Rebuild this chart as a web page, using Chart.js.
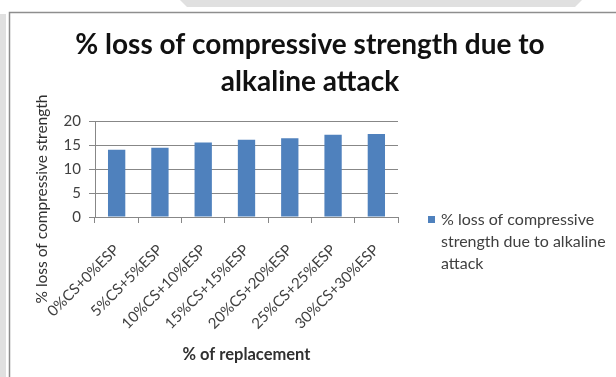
<!DOCTYPE html>
<html>
<head>
<meta charset="utf-8">
<script src="https://cdn.jsdelivr.net/npm/chart.js@4.4.1/dist/chart.umd.min.js"></script>
<style>
  html, body { margin: 0; padding: 0; background: #ffffff; }
  #wrap { width: 616px; height: 377px; }
</style>
</head>
<body>
<div id="wrap"><canvas id="c" width="616" height="377"></canvas></div>
<script>
// Mix designs (cement / eggshell powder replacement levels)
const categories = ['0%CS+0%ESP', '5%CS+5%ESP', '10%CS+10%ESP', '15%CS+15%ESP',
                    '20%CS+20%ESP', '25%CS+25%ESP', '30%CS+30%ESP'];
// % loss of compressive strength after alkaline exposure
const lossValues = [14.1, 14.5, 15.6, 16.2, 16.5, 17.2, 17.4];
const seriesName = '% loss of compressive strength due to alkaline attack';
const titleLines = ['% loss of compressive strength due to', 'alkaline attack'];
const yAxisTitle = '% loss of compressive strength';
const xAxisTitle = '% of replacement';
const legendLines = ['% loss of compressive', 'strength due to alkaline', 'attack'];

const BAR = '#4F81BD';
const GRID = '#878787';
const TEXT = '#404040';
const FONT = 'Lato, "Open Sans", sans-serif';

// Page chrome, outer frame, centred title, side legend and rotated y-axis title
const framePlugin = {
  id: 'framePlugin',
  beforeDraw(chart) {
    const ctx = chart.ctx;
    ctx.save();
    ctx.fillStyle = '#ffffff';
    ctx.fillRect(0, 0, chart.width, chart.height);
    ctx.fillStyle = '#e0e0e0';
    ctx.beginPath();
    ctx.moveTo(180, 0); ctx.lineTo(582, 0); ctx.lineTo(575, 7); ctx.lineTo(187, 7);
    ctx.closePath(); ctx.fill();
    ctx.fillRect(0, 14, 6, chart.height - 14);
    ctx.strokeStyle = '#8e8e8e';
    ctx.lineWidth = 1.5;
    ctx.beginPath();
    ctx.moveTo(9.5, chart.height); ctx.lineTo(9.5, 12.5); ctx.lineTo(chart.width, 12.5);
    ctx.stroke();
    ctx.restore();
  },
  afterDraw(chart) {
    const ctx = chart.ctx;
    ctx.save();
    // chart title
    ctx.fillStyle = '#111111';
    ctx.font = 'bold 28px ' + FONT;
    ctx.textAlign = 'center';
    ctx.textBaseline = 'middle';
    titleLines.forEach((t, i) => ctx.fillText(t, 310, 45 + i * 37));
    // legend
    ctx.fillStyle = BAR;
    ctx.fillRect(428, 216, 7, 7);
    ctx.fillStyle = TEXT;
    ctx.font = '16px ' + FONT;
    ctx.textAlign = 'left';
    legendLines.forEach((t, i) => ctx.fillText(t, 441, 220 + i * 22));
    // y-axis title
    ctx.fillStyle = '#303030';
    ctx.font = '15.5px ' + FONT;
    ctx.translate(42, 199);
    ctx.rotate(-Math.PI / 2);
    ctx.textAlign = 'center';
    ctx.fillText(yAxisTitle, 0, 0);
    ctx.restore();
  }
};

new Chart(document.getElementById('c'), {
  type: 'bar',
  data: {
    labels: categories,
    datasets: [{
      label: seriesName,
      data: lossValues,
      backgroundColor: BAR,
      borderWidth: 0,
      barPercentage: 0.4,
      categoryPercentage: 1.0
    }]
  },
  options: {
    responsive: false,
    animation: false,
    devicePixelRatio: 1,
    layout: { padding: { top: 121.5, right: 218, left: 0, bottom: 0 } },
    plugins: {
      legend: { display: false },
      tooltip: { enabled: false },
      title: { display: false }
    },
    scales: {
      x: {
        grid: { drawOnChartArea: false, drawTicks: true, tickLength: 6, color: GRID, offset: true },
        border: { color: GRID },
        ticks: {
          autoSkip: false, maxRotation: 45, minRotation: 45, padding: 18,
          color: TEXT, font: { family: FONT, size: 15 }
        },
        title: {
          display: true, text: xAxisTitle, color: '#303030',
          font: { family: FONT, weight: 'bold', size: 16.5 },
          padding: { top: 0, bottom: 12 }
        },
        afterFit(scale) { scale.height = 160; }
      },
      y: {
        min: 0, max: 20,
        grid: { color: GRID, tickLength: 6 },
        border: { color: GRID },
        ticks: { stepSize: 5, padding: 8, color: TEXT, font: { family: FONT, size: 15 } },
        afterFit(scale) { scale.width = 95; }
      }
    }
  },
  plugins: [framePlugin]
});
</script>
</body>
</html>
